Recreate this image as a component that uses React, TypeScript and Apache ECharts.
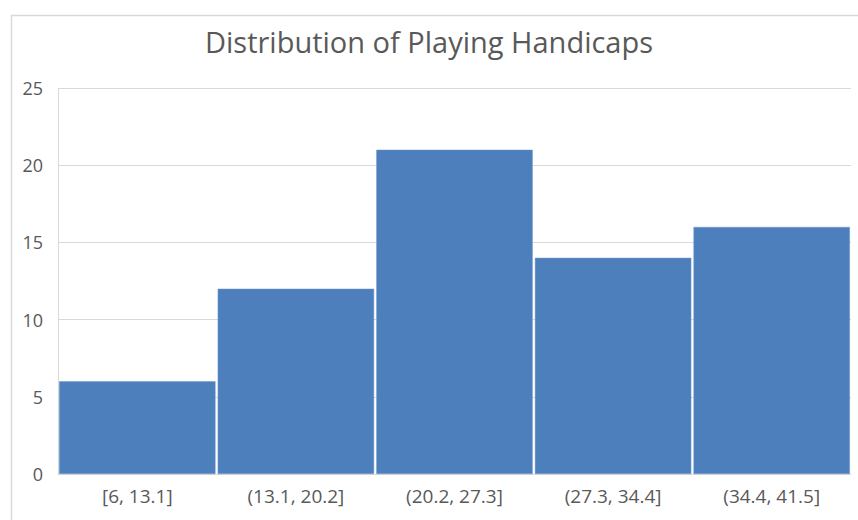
import React, { useEffect, useRef } from "react";
import * as echarts from "echarts";

const categories = ["[6, 13.1]", "(13.1, 20.2]", "(20.2, 27.3]", "(27.3, 34.4]", "(34.4, 41.5]"];
const counts = [6, 12, 21, 14, 16];
const yTicks = { min: 0, max: 25, interval: 5 };
const titleText = "Distribution of Playing Handicaps";

const FONT = "'Open Sans', Lato, 'Liberation Sans', sans-serif";

export default function App() {
  const ref = useRef<HTMLDivElement>(null);
  useEffect(() => {
    document.body.style.margin = "0";
    const chart = echarts.init(ref.current!, undefined, { renderer: "svg" });
    chart.setOption({
      animation: false,
      backgroundColor: "#ffffff",
      title: {
        text: titleText,
        left: "center",
        top: 22,
        textStyle: { fontFamily: FONT, fontSize: 29, fontWeight: "normal", color: "#595959" },
      },
      graphic: [
        {
          type: "rect",
          left: 9,
          top: 13,
          shape: { width: 900, height: 600 },
          style: { fill: "none", stroke: "#D9D9D9", lineWidth: 1.5 },
          silent: true,
        },
      ],
      grid: { left: 58, right: 7, top: 88, bottom: 46 },
      xAxis: {
        type: "category",
        data: categories,
        axisTick: { show: false },
        axisLine: { show: true, lineStyle: { color: "#D9D9D9", width: 1 } },
        axisLabel: { fontFamily: FONT, fontSize: 19, color: "#595959", margin: 12 },
      },
      yAxis: {
        type: "value",
        min: yTicks.min,
        max: yTicks.max,
        interval: yTicks.interval,
        axisLine: { show: true, lineStyle: { color: "#D9D9D9", width: 1 } },
        axisTick: { show: false },
        splitLine: { lineStyle: { color: "#D9D9D9", width: 1 } },
        axisLabel: { fontFamily: FONT, fontSize: 18, color: "#595959", margin: 15 },
      },
      series: [
        {
          type: "bar",
          data: counts,
          barCategoryGap: "1.4%",
          itemStyle: { color: "#4D7FBC", borderColor: "#6F97CB", borderWidth: 0.5 },
        },
      ],
    });
    return () => chart.dispose();
  }, []);
  return <div ref={ref} style={{ width: 858, height: 520 }} />;
}
